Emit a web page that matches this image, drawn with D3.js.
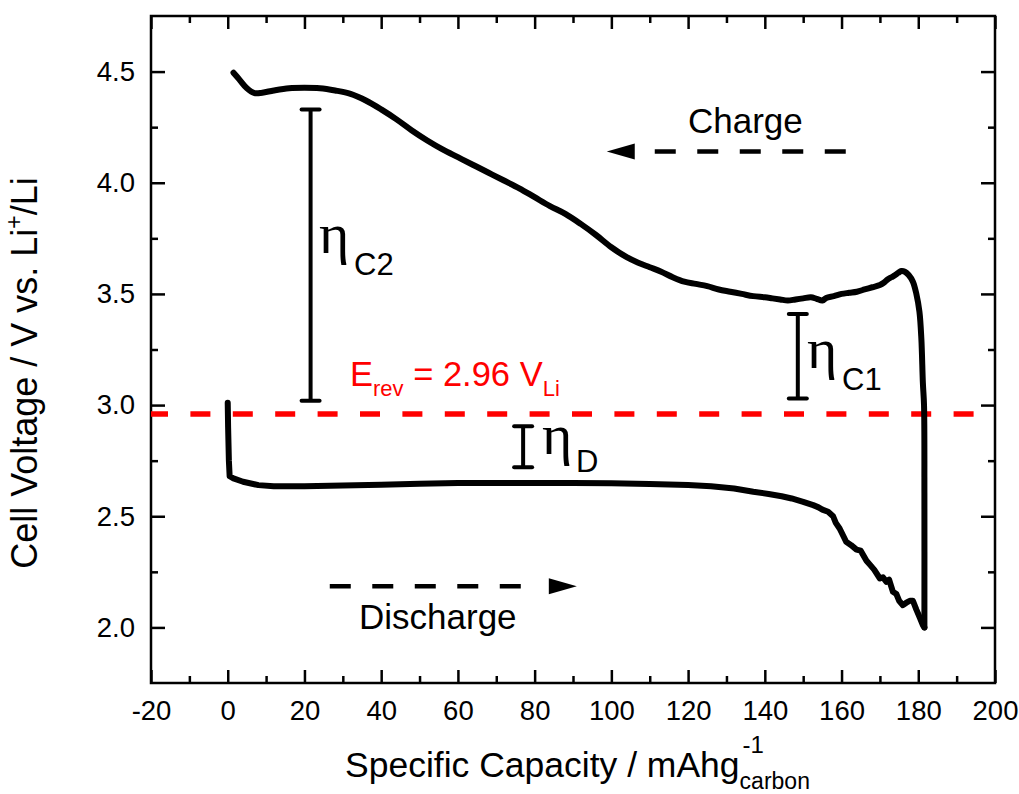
<!DOCTYPE html>
<html lang="en">
<head>
    <meta charset="UTF-8">
    <title>Cell voltage vs specific capacity</title>
    <script src="https://cdn.jsdelivr.net/npm/d3@7/dist/d3.min.js"></script>
    <style>
        body { margin: 0; background: #fff; }
        text { font-family: Arial, "Liberation Sans", sans-serif; }
        .curve { fill: none; stroke: #000; stroke-width: 6; stroke-linejoin: round; stroke-linecap: round; }
        .eta { font-family: "Liberation Serif", "DejaVu Serif", serif; }
    </style>
</head>
<body>
<script>
    // discharge: capacity (mAh/g) and voltage (V)
    var dischargeCap = [0, 0.1, 0.3, 0.5, 1.5, 4, 8, 12, 20, 30, 40, 50, 60, 70, 80, 90, 100, 110, 120, 126,
        132, 137, 141, 144.4, 147, 150, 152.6, 154, 155, 156.5, 157.8, 158.5, 159.5, 160.5, 161.2, 162.5,
        163.9, 165, 166.5, 167.5, 168.5, 170, 170.8, 171.7, 172.4, 173.4, 174.3, 175, 176, 176.8, 177.8,
        178.6, 179.5, 180.5, 181.2, 181.6];
    var dischargeV = [3.01, 2.90, 2.75, 2.68, 2.67, 2.655, 2.64, 2.635, 2.635, 2.638, 2.642, 2.646, 2.649, 2.65,
        2.65, 2.65, 2.648, 2.645, 2.64, 2.635, 2.625, 2.61, 2.60, 2.59, 2.58, 2.565, 2.55, 2.54, 2.53, 2.52,
        2.50, 2.47, 2.445, 2.41, 2.385, 2.37, 2.35, 2.345, 2.30, 2.28, 2.26, 2.22, 2.225, 2.205, 2.215, 2.16,
        2.15, 2.12, 2.10, 2.11, 2.12, 2.12, 2.08, 2.04, 2.01, 2.00];

    // charge: runs back from the end of discharge
    var chargeCap = [181.6, 181.6, 181.5, 181.2, 180.8, 180.3, 179.5, 178.6, 177.5, 176.5, 175.6, 174.8, 174,
        173, 172, 171, 170, 168, 166, 164, 162, 160, 158, 156, 155, 153.5, 152, 150, 148, 146, 144, 142, 140,
        137, 134, 131, 128, 125, 122, 119, 116, 113, 110, 107, 104, 100, 96, 92, 88, 84, 80, 76, 72, 68, 64,
        60, 56, 52, 48, 44, 40, 36, 32, 28, 24, 20, 16, 12, 9, 7, 5, 3, 1.5];
    var chargeV = [2.00, 2.60, 3.00, 3.10, 3.30, 3.42, 3.50, 3.555, 3.585, 3.60, 3.603, 3.595, 3.585, 3.575,
        3.565, 3.55, 3.54, 3.53, 3.52, 3.51, 3.505, 3.50, 3.49, 3.482, 3.47, 3.478, 3.485, 3.48, 3.475, 3.47,
        3.475, 3.48, 3.485, 3.49, 3.50, 3.51, 3.52, 3.535, 3.545, 3.555, 3.575, 3.60, 3.62, 3.64, 3.665, 3.71,
        3.765, 3.815, 3.86, 3.895, 3.935, 3.975, 4.01, 4.045, 4.08, 4.115, 4.15, 4.19, 4.235, 4.285, 4.33,
        4.37, 4.40, 4.415, 4.425, 4.427, 4.425, 4.415, 4.405, 4.403, 4.425, 4.465, 4.495];

    var eRev = 2.96;
    var xMajor = d3.range(-20, 201, 20);
    var xMinor = d3.range(-10, 200, 20);
    var yMajor = [2.0, 2.5, 3.0, 3.5, 4.0, 4.5];
    var yMinor = [2.25, 2.75, 3.25, 3.75, 4.25];

    // overpotential bars: capacity, low V, high V
    var bars = [
        {name: "C2", x: 21.6, lo: 3.02, hi: 4.33},
        {name: "C1", x: 148.6, lo: 3.03, hi: 3.41},
        {name: "D", x: 77, lo: 2.72, hi: 2.905}
    ];

    var W = 1019, H = 794;
    var svg = d3.select("body").append("svg").attr("width", W).attr("height", H);

    var x = d3.scaleLinear().domain([-20, 200]).range([151, 995]);
    var y = d3.scaleLinear().domain([1.75, 4.75]).range([683, 16]);

    function styleAxis(g) {
        g.select(".domain").remove();
        g.selectAll("line").attr("stroke", "#000").attr("stroke-width", 2.5);
        g.selectAll("text").attr("font-size", 27.5).attr("fill", "#000")
            .attr("font-family", "Arial, 'Liberation Sans', sans-serif");
    }

    svg.append("g").attr("transform", "translate(0,683)")
        .call(d3.axisBottom(x).tickValues(xMajor).tickSizeInner(-13).tickSizeOuter(0).tickPadding(17)
            .tickFormat(function (d) { return String(d); }))
        .call(styleAxis);
    svg.append("g").attr("transform", "translate(0,683)")
        .call(d3.axisBottom(x).tickValues(xMinor).tickSizeInner(-7).tickSizeOuter(0).tickFormat(""))
        .call(styleAxis);
    svg.append("g").attr("transform", "translate(0,16)")
        .call(d3.axisTop(x).tickValues(xMajor).tickSizeInner(-13).tickSizeOuter(0).tickFormat(""))
        .call(styleAxis);
    svg.append("g").attr("transform", "translate(0,16)")
        .call(d3.axisTop(x).tickValues(xMinor).tickSizeInner(-7).tickSizeOuter(0).tickFormat(""))
        .call(styleAxis);
    svg.append("g").attr("transform", "translate(151,0)")
        .call(d3.axisLeft(y).tickValues(yMajor).tickSizeInner(-14).tickSizeOuter(0).tickPadding(16)
            .tickFormat(d3.format(".1f")))
        .call(styleAxis);
    svg.append("g").attr("transform", "translate(151,0)")
        .call(d3.axisLeft(y).tickValues(yMinor).tickSizeInner(-7).tickSizeOuter(0).tickFormat(""))
        .call(styleAxis);
    svg.append("g").attr("transform", "translate(995,0)")
        .call(d3.axisRight(y).tickValues(yMajor).tickSizeInner(-14).tickSizeOuter(0).tickFormat(""))
        .call(styleAxis);
    svg.append("g").attr("transform", "translate(995,0)")
        .call(d3.axisRight(y).tickValues(yMinor).tickSizeInner(-7).tickSizeOuter(0).tickFormat(""))
        .call(styleAxis);

    svg.append("rect")
        .attr("x", 151).attr("y", 16).attr("width", 995 - 151).attr("height", 683 - 16)
        .attr("fill", "none").attr("stroke", "#000").attr("stroke-width", 2.5);

    // E_rev line
    svg.append("line")
        .attr("x1", x(-20)).attr("x2", x(200)).attr("y1", y(eRev)).attr("y2", y(eRev))
        .attr("stroke", "#ff0000").attr("stroke-width", 5.5)
        .attr("stroke-dasharray", "20 22.4").attr("stroke-dashoffset", 3);

    var line = d3.line()
        .x(function (d) { return x(d[0]); })
        .y(function (d) { return y(d[1]); });

    svg.append("path").attr("class", "curve")
        .attr("d", line(d3.zip(dischargeCap, dischargeV)));
    svg.append("path").attr("class", "curve")
        .attr("d", line.curve(d3.curveCatmullRom.alpha(0.5))(d3.zip(chargeCap, chargeV)));

    // I-beam bars
    bars.forEach(function (b) {
        var g = svg.append("g").attr("stroke", "#000").attr("stroke-width", 4);
        g.append("line").attr("x1", x(b.x)).attr("x2", x(b.x)).attr("y1", y(b.lo)).attr("y2", y(b.hi));
        [b.lo, b.hi].forEach(function (v) {
            g.append("line").attr("x1", x(b.x) - 9).attr("x2", x(b.x) + 9)
                .attr("y1", y(v)).attr("y2", y(v)).attr("stroke-linecap", "round");
        });
    });

    // eta labels
    var etaLabels = [
        {sub: "C2", ex: 319, ey: 253, sx: 354, sy: 275},
        {sub: "C1", ex: 807, ey: 368, sx: 842, sy: 390},
        {sub: "D", ex: 542, ey: 454, sx: 576, sy: 472}
    ];
    etaLabels.forEach(function (l) {
        svg.append("text").attr("class", "eta").attr("x", l.ex).attr("y", l.ey)
            .attr("font-size", 58).text("\u03b7");
        svg.append("text").attr("x", l.sx).attr("y", l.sy).attr("font-size", 31).text(l.sub);
    });

    // E_rev label
    var er = svg.append("text").attr("x", 350).attr("y", 386).attr("fill", "#ff0000").attr("font-size", 34.5);
    er.append("tspan").text("E");
    er.append("tspan").attr("font-size", 22).attr("dy", 10).text("rev");
    er.append("tspan").attr("dy", -10).text(" = 2.96 V");
    er.append("tspan").attr("font-size", 22).attr("dy", 10).text("Li");

    // direction arrows
    function dashedArrow(x0, x1, yv, dir) {
        var yy = y(yv);
        var tip = dir < 0 ? x(x0) : x(x1);
        var base = tip - dir * 28;
        var lx0 = dir < 0 ? base + 20 : x(x0);
        var lx1 = dir < 0 ? x(x1) : base - 20;
        svg.append("line").attr("x1", lx0).attr("x2", lx1).attr("y1", yy).attr("y2", yy)
            .attr("stroke", "#000").attr("stroke-width", 4.5).attr("stroke-dasharray", "21 21.5");
        svg.append("path")
            .attr("d", "M" + tip + "," + yy + "L" + base + "," + (yy - 8) + "L" + base + "," + (yy + 8) + "Z")
            .attr("fill", "#000");
    }
    dashedArrow(98.8, 161.4, 4.14, -1);
    dashedArrow(26.6, 91, 2.185, 1);

    svg.append("text").attr("x", 688).attr("y", 133).attr("font-size", 35).text("Charge");
    svg.append("text").attr("x", 359).attr("y", 629).attr("font-size", 35).text("Discharge");

    // axis titles
    var xt = svg.append("text").attr("x", 345).attr("y", 777).attr("font-size", 35.5)
        .text("Specific Capacity / mAhg");
    var xEnd = 345 + xt.node().getComputedTextLength();
    svg.append("text").attr("x", xEnd + 3).attr("y", 753).attr("font-size", 24).text("-1");
    svg.append("text").attr("x", xEnd).attr("y", 789).attr("font-size", 23).text("carbon");

    var yt = svg.append("text").attr("transform", "translate(37,373) rotate(-90)")
        .attr("text-anchor", "middle").attr("font-size", 36);
    yt.append("tspan").text("Cell Voltage / V vs. Li");
    yt.append("tspan").attr("font-size", 23).attr("dy", -15).text("+");
    yt.append("tspan").attr("dy", 15).text("/Li");
</script>
</body>
</html>
